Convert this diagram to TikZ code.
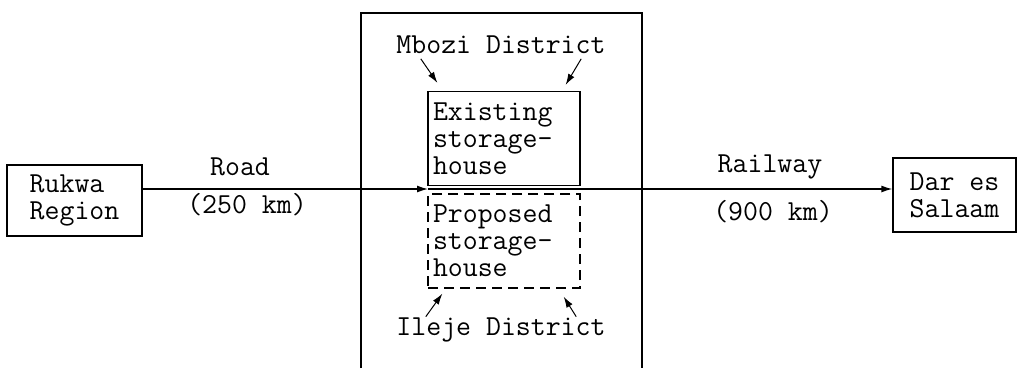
\documentclass[tikz,border=0pt]{standalone}
\usepackage{fontspec}
\usetikzlibrary{arrows.meta}

\begin{document}
\begin{tikzpicture}[x=1pt, y=-1pt, line width=1.3pt,
  every node/.style={font=\ttfamily\fontsize{29}{27}\selectfont},
  place/.style={draw, align=left, inner sep=0pt},
  store/.style={draw, align=left, text width=142pt, inner xsep=5pt, inner ysep=0pt, minimum height=94pt},
  plain/.style={inner sep=0pt},
  pointer/.style={-{Latex[length=11pt,width=7pt]}}]
\useasboundingbox (0,0) rectangle (1024,368); % Page size
% District frame (open at the bottom)
\draw (361,368) |- (642,13) -- (642,368);
% Regions at both ends
\node[place, minimum width=135pt, minimum height=71pt] (rukwa) at (74.5,200.5) {Rukwa\\Region};
\node[place, minimum width=123pt, minimum height=74pt] (dar) at (954.5,195) {Dar es\\Salaam};
% Storage-houses
\node[store] (existing) at (504,138.5) {Existing\\storage-\\house};
\node[store, dash pattern=on 10pt off 6pt] (proposed) at (504,241) {Proposed\\storage-\\house};
% District names
\node[plain, anchor=base] (mbozi) at (501,53) {Mbozi District};
\node[plain, anchor=base] (ileje) at (501,335) {Ileje District};
% Transport labels
\node[plain, anchor=base] (road) at (240,175) {Road};
\node[plain, anchor=base] (roadkm) at (247,213) {(250 km)};
\node[plain, anchor=base] (rail) at (770,172) {Railway};
\node[plain, anchor=base] (railkm) at (773,220) {(900 km)};
% Routes
\coordinate (junc) at (428,189); % between the two storage-houses
\draw[pointer] (rukwa.east |- junc) -- (junc);
\draw[pointer] (junc) -- (dar.west |- junc);
% District pointers
\draw[pointer, line width=1pt] ([xshift=25pt,yshift=-5pt]mbozi.south west) -- ([xshift=10pt,yshift=8pt]existing.north west);
\draw[pointer, line width=1pt] ([xshift=-25pt,yshift=-5pt]mbozi.south east) -- ([xshift=-15pt,yshift=6pt]existing.north east);
\draw[pointer, line width=1pt] ([xshift=30pt]ileje.north west) -- ([xshift=15pt,yshift=-5pt]proposed.south west);
\draw[pointer, line width=1pt] ([xshift=-30pt]ileje.north east) -- ([xshift=-17pt,yshift=-8pt]proposed.south east);
\end{tikzpicture}
\end{document}
